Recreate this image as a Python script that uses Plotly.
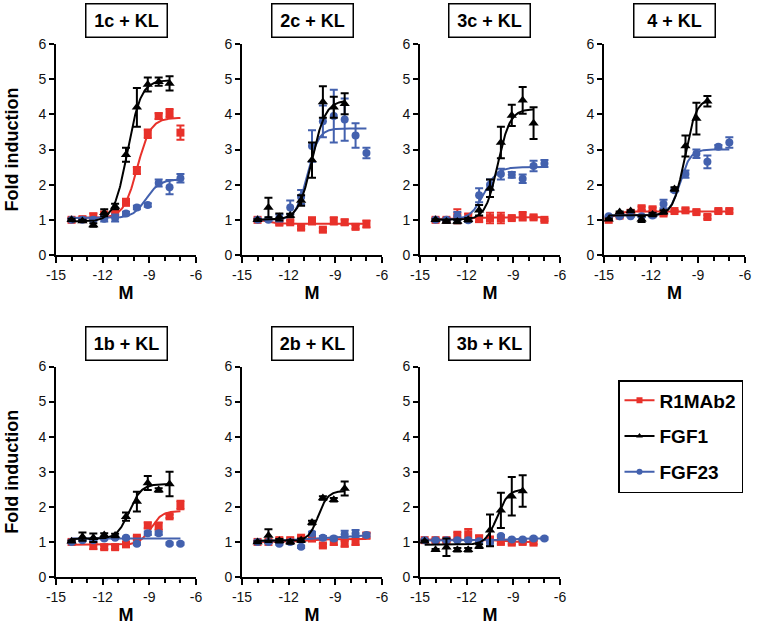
import numpy as np
import plotly.graph_objects as go

FONT = "Arial, Liberation Sans, sans-serif"
RED = "#E8312A"
BLACK = "#000000"
BLUE = "#4361AE"

SERIES_NAMES = ["R1MAb2", "FGF1", "FGF23"]
PANEL_TITLES = ["1c + KL", "2c + KL", "3c + KL", "4 + KL", "1b + KL", "2b + KL", "3b + KL"]
X_TICKS = [-15, -12, -9, -6]
X_MINOR = [-15, -14, -13, -12, -11, -10, -9, -8, -7, -6]
Y_TICKS = [0, 1, 2, 3, 4, 5, 6]

# log molar concentrations (5-fold dilutions)
LOG_M = [-14.0, -13.3, -12.6, -11.9, -11.2, -10.5, -9.8, -9.1, -8.4, -7.7, -7.0]
LOG_M_EXT = [-14.7, -14.0, -13.3, -12.6, -11.9, -11.2, -10.5, -9.8, -9.1, -8.4, -7.7, -7.0]
LOG_M_NO133 = [-14.0, -12.6, -11.9, -11.2, -10.5, -9.8, -9.1, -8.4, -7.7, -7.0]

# ---- panel 1c + KL ----
X_1C_R1 = LOG_M
Y_1C_R1 = [1.0, 1.02, 1.1, 1.15, 1.2, 1.5, 2.4, 3.45, 3.95, 4.03, 3.48]
E_1C_R1 = [0.05, 0.05, 0.08, 0.08, 0.1, 0.1, 0.1, 0.12, 0.08, 0.12, 0.2]
X_1C_F1 = LOG_M[:10]
Y_1C_F1 = [1.0, 0.97, 0.85, 1.2, 1.38, 2.85, 4.2, 4.85, 4.93, 4.88]
E_1C_F1 = [0.03, 0.03, 0.05, 0.1, 0.08, 0.2, 0.55, 0.2, 0.12, 0.2]
X_1C_F23 = LOG_M
Y_1C_F23 = [1.0, 1.0, 1.0, 1.03, 1.05, 1.18, 1.35, 1.42, 2.05, 1.93, 2.18]
E_1C_F23 = [0.03, 0.03, 0.03, 0.08, 0.1, 0.05, 0.05, 0.05, 0.1, 0.2, 0.12]
FIT_1C = [[1.05, 3.9, -9.78, 1.0], [0.95, 4.97, -10.4, 1.0], [1.05, 2.15, -9.2, 1.0]]

# ---- panel 2c + KL ----
X_2C_R1 = LOG_M_NO133
Y_2C_R1 = [1.0, 0.92, 0.93, 0.78, 0.97, 0.72, 0.97, 0.93, 0.8, 0.88]
E_2C_R1 = [0.03, 0.06, 0.05, 0.05, 0.1, 0.05, 0.1, 0.08, 0.05, 0.1]
X_2C_F1 = LOG_M[:9]
Y_2C_F1 = [1.0, 1.35, 1.08, 1.12, 1.55, 2.7, 4.35, 4.2, 4.3]
E_2C_F1 = [0.02, 0.28, 0.1, 0.05, 0.15, 0.5, 0.45, 0.3, 0.3]
X_2C_F23 = LOG_M
Y_2C_F23 = [1.0, 1.0, 1.05, 1.35, 1.65, 3.1, 3.8, 3.95, 3.85, 3.4, 2.9]
E_2C_F23 = [0.03, 0.03, 0.1, 0.2, 0.2, 0.45, 0.45, 0.75, 0.6, 0.35, 0.15]
FIT_2C = [[1.02, 0.89, -13.4, 1.5], [1.0, 4.4, -10.5, 1.0], [1.0, 3.6, -10.8, 1.2]]

# ---- panel 3c + KL ----
X_3C_R1 = LOG_M
Y_3C_R1 = [1.0, 1.0, 1.1, 1.08, 1.02, 1.05, 1.05, 1.05, 1.1, 1.07, 1.0]
E_3C_R1 = [0.05, 0.05, 0.2, 0.1, 0.08, 0.15, 0.15, 0.05, 0.12, 0.05, 0.03]
X_3C_F1 = LOG_M[:10]
Y_3C_F1 = [1.0, 0.95, 0.95, 1.0, 1.27, 1.9, 3.2, 3.97, 4.4, 3.75]
E_3C_F1 = [0.02, 0.03, 0.05, 0.05, 0.15, 0.25, 0.45, 0.3, 0.38, 0.45]
X_3C_F23 = LOG_M
Y_3C_F23 = [1.0, 1.0, 1.1, 0.99, 1.7, 2.0, 2.3, 2.28, 2.17, 2.53, 2.6]
E_3C_F23 = [0.03, 0.03, 0.12, 0.05, 0.2, 0.15, 0.15, 0.08, 0.12, 0.15, 0.1]
FIT_3C = [[1.02, 1.07, -12.0, 1.0], [1.0, 4.15, -10.0, 1.1], [1.0, 2.5, -10.9, 1.0]]

# ---- panel 4 + KL ----
X_4_R1 = LOG_M_EXT
Y_4_R1 = [1.0, 1.12, 1.2, 1.33, 1.3, 1.18, 1.25, 1.27, 1.22, 1.08, 1.25, 1.25]
E_4_R1 = [0.03, 0.03, 0.03, 0.05, 0.05, 0.05, 0.03, 0.05, 0.05, 0.05, 0.05, 0.05]
X_4_F1 = LOG_M_EXT[:10]
Y_4_F1 = [1.02, 1.22, 1.25, 1.02, 1.15, 1.22, 1.88, 3.1, 3.88, 4.37]
E_4_F1 = [0.02, 0.02, 0.02, 0.08, 0.05, 0.05, 0.05, 0.3, 0.45, 0.15]
X_4_F23 = LOG_M_EXT
Y_4_F23 = [1.1, 1.1, 1.1, 1.1, 1.12, 1.45, 1.84, 2.3, 2.88, 2.65, 3.08, 3.2]
E_4_F23 = [0.02, 0.02, 0.02, 0.02, 0.05, 0.12, 0.05, 0.1, 0.12, 0.18, 0.05, 0.15]
FIT_4 = [[1.0, 1.24, -14.3, 1.5], [1.12, 4.45, -9.85, 1.2], [1.12, 3.0, -10.15, 1.3]]

# ---- panel 1b + KL ----
X_1B_R1 = LOG_M_NO133
Y_1B_R1 = [1.0, 0.88, 0.85, 0.85, 0.93, 1.12, 1.47, 1.45, 1.73, 2.05]
E_1B_R1 = [0.03, 0.08, 0.05, 0.05, 0.05, 0.05, 0.08, 0.1, 0.05, 0.12]
X_1B_F1 = LOG_M[:10]
Y_1B_F1 = [1.02, 1.15, 1.12, 1.2, 1.18, 1.72, 2.15, 2.68, 2.48, 2.65]
E_1B_F1 = [0.02, 0.12, 0.12, 0.05, 0.05, 0.12, 0.28, 0.2, 0.05, 0.35]
X_1B_F23 = LOG_M
Y_1B_F23 = [1.0, 1.05, 1.05, 1.1, 1.12, 1.12, 0.95, 1.25, 1.25, 0.95, 0.95]
E_1B_F23 = [0.03, 0.03, 0.03, 0.03, 0.03, 0.03, 0.03, 0.05, 0.05, 0.03, 0.03]
FIT_1B = [[0.92, 1.88, -8.9, 1.2], [1.08, 2.65, -10.3, 1.1], [1.1, 1.1, -10.0, 1.0]]

# ---- panel 2b + KL ----
X_2B_R1 = LOG_M
Y_2B_R1 = [1.0, 1.0, 1.05, 1.05, 1.12, 1.1, 0.9, 1.0, 0.95, 1.0, 1.18]
E_2B_R1 = [0.03, 0.03, 0.05, 0.05, 0.05, 0.08, 0.05, 0.08, 0.08, 0.08, 0.08]
X_2B_F1 = LOG_M[:9]
Y_2B_F1 = [1.0, 1.18, 1.03, 1.0, 1.05, 1.55, 2.25, 2.2, 2.52]
E_2B_F1 = [0.02, 0.18, 0.05, 0.05, 0.05, 0.05, 0.05, 0.05, 0.2]
X_2B_F23 = LOG_M
Y_2B_F23 = [1.0, 1.0, 0.95, 1.0, 0.86, 1.24, 1.12, 1.1, 1.22, 1.24, 1.2]
E_2B_F23 = [0.03, 0.03, 0.03, 0.03, 0.03, 0.05, 0.05, 0.05, 0.1, 0.1, 0.05]
FIT_2B = [[1.0, 1.08, -11.0, 1.0], [1.03, 2.45, -10.1, 1.4], [1.0, 1.2, -10.5, 0.3]]

# ---- panel 3b + KL ----
X_3B_R1 = LOG_M_EXT[:11]
Y_3B_R1 = [1.05, 1.05, 1.05, 1.17, 1.22, 1.1, 1.07, 1.0, 0.98, 1.0, 0.98]
E_3B_R1 = [0.03, 0.05, 0.05, 0.12, 0.15, 0.08, 0.05, 0.05, 0.05, 0.05, 0.05]
X_3B_F1 = LOG_M_EXT[:10]
Y_3B_F1 = [1.02, 0.78, 0.85, 0.78, 0.78, 0.88, 1.33, 1.9, 2.3, 2.45]
E_3B_F1 = [0.02, 0.02, 0.25, 0.05, 0.05, 0.05, 0.45, 0.5, 0.55, 0.45]
X_3B_F23 = LOG_M_EXT
Y_3B_F23 = [1.05, 1.05, 1.05, 1.05, 1.05, 1.02, 0.98, 1.17, 1.07, 1.07, 1.1, 1.1]
E_3B_F23 = [0.02, 0.02, 0.02, 0.02, 0.02, 0.02, 0.08, 0.03, 0.03, 0.03, 0.03, 0.03]
FIT_3B = [[1.07, 1.0, -10.0, 1.0], [0.92, 2.5, -10.05, 1.2], [1.04, 1.1, -9.5, 1.0]]

# ---------------------------------------------------------------------------
PANELS = [
    [(X_1C_R1, Y_1C_R1, E_1C_R1), (X_1C_F1, Y_1C_F1, E_1C_F1), (X_1C_F23, Y_1C_F23, E_1C_F23), FIT_1C],
    [(X_2C_R1, Y_2C_R1, E_2C_R1), (X_2C_F1, Y_2C_F1, E_2C_F1), (X_2C_F23, Y_2C_F23, E_2C_F23), FIT_2C],
    [(X_3C_R1, Y_3C_R1, E_3C_R1), (X_3C_F1, Y_3C_F1, E_3C_F1), (X_3C_F23, Y_3C_F23, E_3C_F23), FIT_3C],
    [(X_4_R1, Y_4_R1, E_4_R1), (X_4_F1, Y_4_F1, E_4_F1), (X_4_F23, Y_4_F23, E_4_F23), FIT_4],
    [(X_1B_R1, Y_1B_R1, E_1B_R1), (X_1B_F1, Y_1B_F1, E_1B_F1), (X_1B_F23, Y_1B_F23, E_1B_F23), FIT_1B],
    [(X_2B_R1, Y_2B_R1, E_2B_R1), (X_2B_F1, Y_2B_F1, E_2B_F1), (X_2B_F23, Y_2B_F23, E_2B_F23), FIT_2B],
    [(X_3B_R1, Y_3B_R1, E_3B_R1), (X_3B_F1, Y_3B_F1, E_3B_F1), (X_3B_F23, Y_3B_F23, E_3B_F23), FIT_3B],
]

W, H = 765, 627
COLS_PX = [(56, 196), (242, 382), (420, 560), (604, 745)]
ROWS_PX = [(44, 255), (366.5, 577)]
GRID = [(0, 0), (0, 1), (0, 2), (0, 3), (1, 0), (1, 1), (1, 2)]

COLORS = [RED, BLACK, BLUE]
SYMBOLS = ["square", "triangle-up", "circle"]
MSIZE = [8, 9, 8]
DRAW_ORDER = [0, 2, 1]


def logistic(x, p):
    bottom, top, ec50, hill = p
    return bottom + (top - bottom) / (1.0 + 10 ** (hill * (ec50 - x)))


fig = go.Figure()
layout = {}
annotations = []

for i, panel in enumerate(PANELS):
    r, c = GRID[i]
    n = "" if i == 0 else str(i + 1)
    xa, ya = "x" + n, "y" + n
    x0, x1 = COLS_PX[c]
    yt, yb = ROWS_PX[r]
    fits = panel[3]
    for s in DRAW_ORDER:
        xs, ys, es = panel[s]
        xc = np.linspace(min(xs), max(xs), 200)
        fig.add_trace(go.Scatter(
            x=xc, y=logistic(xc, fits[s]), mode="lines", xaxis=xa, yaxis=ya,
            line=dict(color=COLORS[s], width=2), showlegend=False, hoverinfo="skip"))
        fig.add_trace(go.Scatter(
            x=xs, y=ys, mode="markers", xaxis=xa, yaxis=ya,
            marker=dict(color=COLORS[s], symbol=SYMBOLS[s], size=MSIZE[s]),
            error_y=dict(type="data", array=es, visible=True, color=COLORS[s],
                         thickness=2, width=4),
            showlegend=False, name=SERIES_NAMES[s]))

    axis_common = dict(showline=True, linecolor="black", linewidth=2, ticks="outside",
                       tickcolor="black", tickwidth=2, showgrid=False, zeroline=False,
                       automargin=False,
                       tickfont=dict(family=FONT, size=14, color="#111"))
    layout["xaxis" + n] = dict(
        axis_common, domain=[x0 / W, x1 / W], anchor=ya, range=[-15, -6],
        tickmode="array", tickvals=X_TICKS, ticktext=[str(v) for v in X_TICKS], ticklen=6,
        minor=dict(tickmode="array", tickvals=X_MINOR, ticks="outside", ticklen=4,
                   tickwidth=2, tickcolor="black", showgrid=False),
        title=dict(text="<b>M</b>", font=dict(family=FONT, size=18, color="black"), standoff=5))
    ydict = dict(axis_common, domain=[1 - yb / H, 1 - yt / H], anchor=xa, range=[0, 6],
                 tickmode="array", tickvals=Y_TICKS, ticklen=5)
    if c == 0:
        ydict["title"] = dict(text="<b>Fold induction</b>",
                              font=dict(family=FONT, size=18, color="black"), standoff=15)
    layout["yaxis" + n] = ydict

    annotations.append(dict(
        text="<b>%s</b>" % PANEL_TITLES[i], xref="paper", yref="paper",
        x=(x0 + x1) / 2 / W, y=1 - (yt - 6) / H, xanchor="center", yanchor="bottom",
        showarrow=False, width=78, height=30, borderpad=1, bordercolor="black",
        borderwidth=1.5, bgcolor="white", font=dict(family=FONT, size=18, color="black")))

# legend entries
for s in range(3):
    fig.add_trace(go.Scatter(
        x=[None], y=[None], mode="lines+markers", name="<b>%s</b>" % SERIES_NAMES[s],
        line=dict(color=COLORS[s], width=2),
        marker=dict(color=COLORS[s], symbol=SYMBOLS[s], size=6),
        legendgroup=SERIES_NAMES[s], showlegend=True))

fig.update_layout(
    width=W, height=H, margin=dict(l=0, r=0, t=0, b=0, autoexpand=False),
    paper_bgcolor="white", plot_bgcolor="white",
    showlegend=True,
    legend=dict(x=618 / W, y=1 - 380 / H, xanchor="left", yanchor="top",
                bordercolor="black", borderwidth=1.5, bgcolor="white",
                font=dict(family=FONT, size=19, color="black"),
                tracegroupgap=8, itemwidth=30),
    annotations=annotations,
    **layout)

fig.write_html("out.html", config={"displayModeBar": False},
               post_script="document.body.style.margin='0px';")
